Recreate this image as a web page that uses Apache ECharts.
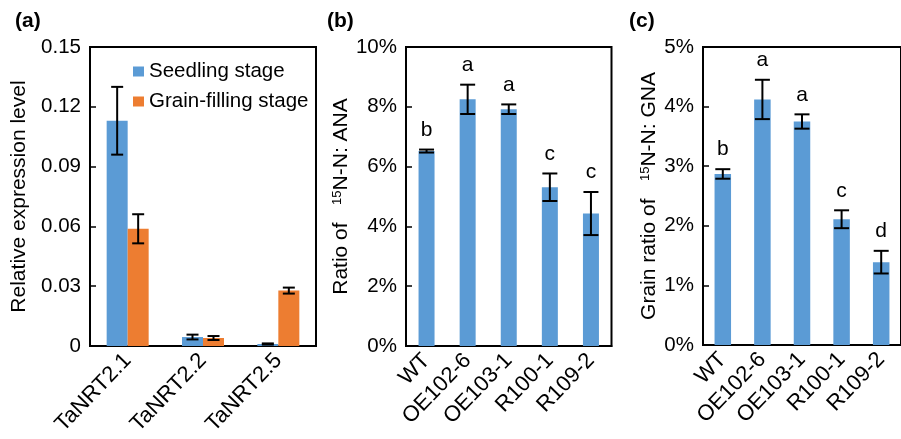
<!DOCTYPE html>
<html><head><meta charset="utf-8">
<script src="https://cdn.jsdelivr.net/npm/echarts@6/dist/echarts.min.js"></script>
<style>html,body{margin:0;padding:0;background:#fff}#c{width:901px;height:439px}</style>
</head><body><div id="c"></div>
<script>
// Panel (a)
const genes = ['TaNRT2.1', 'TaNRT2.2', 'TaNRT2.5'];
const seedling = [0.113, 0.0045, 0.001];
const seedlingErr = [0.017, 0.0012, 0.0003];
const grainFilling = [0.0588, 0.004, 0.0278];
const grainFillingErr = [0.0073, 0.001, 0.0015];
const ticksA = ['0', '0.03', '0.06', '0.09', '0.12', '0.15'];
// Panel (b)
const lines = ['WT', 'OE102-6', 'OE103-1', 'R100-1', 'R109-2'];
const anaRatio = [6.52, 8.25, 7.92, 5.31, 4.43];
const anaErr = [0.05, 0.49, 0.16, 0.46, 0.72];
const anaLetters = ['b', 'a', 'a', 'c', 'c'];
const ticksB = ['0%', '2%', '4%', '6%', '8%', '10%'];
// Panel (c)
const gnaRatio = [2.87, 4.12, 3.75, 2.11, 1.39];
const gnaErr = [0.08, 0.33, 0.12, 0.15, 0.19];
const gnaLetters = ['b', 'a', 'a', 'c', 'd'];
const ticksC = ['0%', '1%', '2%', '3%', '4%', '5%'];

const FONT = '"Liberation Sans", Arial, sans-serif';
const BLUE = '#5B9BD5', ORANGE = '#ED7D31';

function errRender(vals, errs, letters, offsetPx, capW) {
  return function (params, api) {
    const i = params.dataIndex;
    const x = api.coord([i, 0])[0] + offsetPx;
    const yTop = api.coord([i, vals[i] + errs[i]])[1];
    const yBot = api.coord([i, vals[i] - errs[i]])[1];
    const st = { stroke: '#000', lineWidth: 2 };
    const ch = [
      { type: 'line', shape: { x1: x, y1: yTop, x2: x, y2: yBot }, style: st },
      { type: 'line', shape: { x1: x - capW / 2, y1: yTop, x2: x + capW / 2, y2: yTop }, style: st },
      { type: 'line', shape: { x1: x - capW / 2, y1: yBot, x2: x + capW / 2, y2: yBot }, style: st }
    ];
    if (letters) {
      ch.push({ type: 'text', style: { text: letters[i], x: x, y: yTop - 9, textAlign: 'center', textVerticalAlign: 'bottom', font: '21px ' + FONT, fill: '#000' } });
    }
    return { type: 'group', children: ch };
  };
}

function yAxis(idx, max, interval, ticks, nameRich, nameGap) {
  return {
    type: 'value', gridIndex: idx, min: 0, max: max, interval: interval,
    axisLine: { show: true, lineStyle: { color: '#000', width: 2 } },
    axisTick: { show: true, inside: true, length: 6, lineStyle: { color: '#000', width: 1.5 } },
    splitLine: { show: false },
    axisLabel: { color: '#000', fontSize: 20.5, fontFamily: FONT, margin: 9, formatter: (v, i) => ticks[i] },
    name: nameRich, nameLocation: 'middle', nameGap: nameGap, nameRotate: 90,
    nameTextStyle: {
      color: '#000', fontSize: 21, fontFamily: FONT,
      rich: { sup: { fontSize: 13, fontFamily: FONT, color: '#000', verticalAlign: 'top' } }
    }
  };
}
function xAxis(idx, cats) {
  return {
    type: 'category', gridIndex: idx, data: cats,
    axisLine: { show: true, lineStyle: { color: '#000', width: 2 } },
    axisTick: { show: false },
    axisLabel: { color: '#000', fontSize: 22, fontFamily: FONT, rotate: 46, margin: 11, interval: 0 }
  };
}
const gridBase = { show: true, borderColor: '#000', borderWidth: 2, containLabel: false };

const option = {
  animation: false,
  textStyle: { fontFamily: FONT },
  title: [
    { text: '(a)', left: 15, top: 11, padding: 0, textStyle: { fontSize: 21, fontWeight: 'bold', color: '#000', fontFamily: FONT } },
    { text: '(b)', left: 327, top: 11, padding: 0, textStyle: { fontSize: 21, fontWeight: 'bold', color: '#000', fontFamily: FONT } },
    { text: '(c)', left: 629, top: 11, padding: 0, textStyle: { fontSize: 21, fontWeight: 'bold', color: '#000', fontFamily: FONT } }
  ],
  legend: {
    data: ['Seedling stage', 'Grain-filling stage'], orient: 'vertical', left: 133, top: 61,
    itemWidth: 11, itemHeight: 10, itemGap: 9, icon: 'rect', padding: 0,
    textStyle: { fontSize: 20.5, color: '#000', fontFamily: FONT }
  },
  grid: [
    Object.assign({ left: 90, width: 226, top: 47, height: 299 }, gridBase),
    Object.assign({ left: 406, width: 205.5, top: 47, height: 299 }, gridBase),
    Object.assign({ left: 703, width: 208, top: 47, height: 298 }, gridBase)
  ],
  xAxis: [xAxis(0, genes), xAxis(1, lines), xAxis(2, lines)],
  yAxis: [
    yAxis(0, 0.15, 0.03, ticksA, 'Relative expression level', 60),
    yAxis(1, 10, 2, ticksB, 'Ratio of   {sup|15}N-N: ANA', 41),
    yAxis(2, 5, 1, ticksC, 'Grain ratio of   {sup|15}N-N: GNA', 43)
  ],
  series: [
    { name: 'Seedling stage', type: 'bar', xAxisIndex: 0, yAxisIndex: 0, data: seedling, barWidth: 21, barGap: '0%', itemStyle: { color: BLUE } },
    { name: 'Grain-filling stage', type: 'bar', xAxisIndex: 0, yAxisIndex: 0, data: grainFilling, barWidth: 21, barGap: '0%', itemStyle: { color: ORANGE } },
    { type: 'custom', xAxisIndex: 0, yAxisIndex: 0, data: genes.map((g, i) => [i, seedling[i] + seedlingErr[i]]), renderItem: errRender(seedling, seedlingErr, null, -10.5, 12), z: 10 },
    { type: 'custom', xAxisIndex: 0, yAxisIndex: 0, data: genes.map((g, i) => [i, grainFilling[i] + grainFillingErr[i]]), renderItem: errRender(grainFilling, grainFillingErr, null, 10.5, 12), z: 10 },
    { type: 'bar', xAxisIndex: 1, yAxisIndex: 1, data: anaRatio, barWidth: 16, itemStyle: { color: BLUE } },
    { type: 'custom', xAxisIndex: 1, yAxisIndex: 1, data: lines.map((g, i) => [i, anaRatio[i] + anaErr[i]]), renderItem: errRender(anaRatio, anaErr, anaLetters, 0, 15), z: 10 },
    { type: 'bar', xAxisIndex: 2, yAxisIndex: 2, data: gnaRatio, barWidth: 16.5, itemStyle: { color: BLUE } },
    { type: 'custom', xAxisIndex: 2, yAxisIndex: 2, data: lines.map((g, i) => [i, gnaRatio[i] + gnaErr[i]]), renderItem: errRender(gnaRatio, gnaErr, gnaLetters, 0, 15), z: 10 }
  ]
};
const chart = echarts.init(document.getElementById('c'), null, { renderer: 'canvas' });
chart.setOption(option);
</script>
</body></html>
